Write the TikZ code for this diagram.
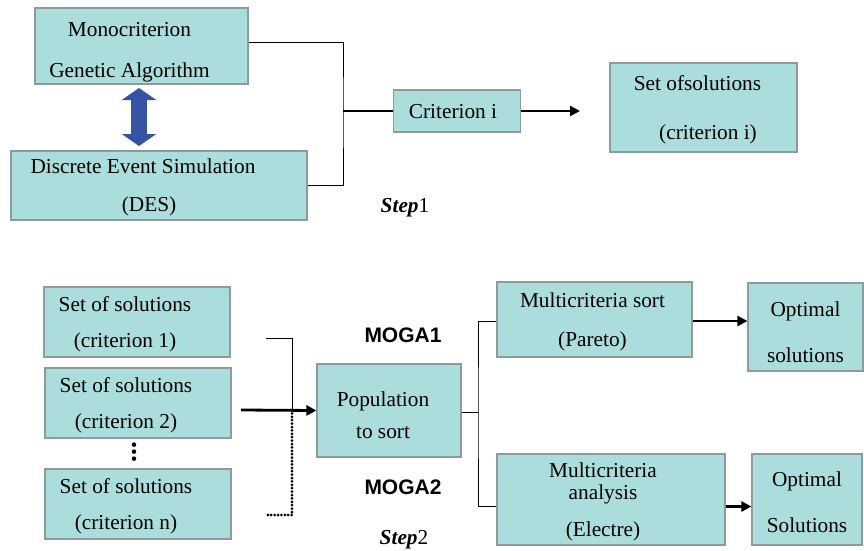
\documentclass[tikz,border=0pt]{standalone}
\usepackage{fontspec}
\setmainfont{Liberation Serif}
\setsansfont{Liberation Sans}
\usetikzlibrary{arrows.meta}
\definecolor{boxfill}{HTML}{AADDDB}
\definecolor{boxline}{HTML}{8C9C9C}
\definecolor{arrowblue}{HTML}{3653A4}
\newcommand{\topgap}[1]{\rule{0pt}{#1}}
\begin{document}
\begin{tikzpicture}[x=1pt,y=-1pt,
  box/.style={draw=boxline,fill=boxfill,line width=1.2pt,inner sep=0pt,align=center,
    font=\fontsize{21.3}{24}\selectfont,text depth=-7pt},
  tleft/.style={execute at end node={\hspace*{#1}}},
  link/.style={line width=0.9pt},
  thicklink/.style={line width=2.8pt},
  arr/.style={thicklink,-{Triangle[length=10pt,width=10pt]}},
  dotlink/.style={line width=3pt,line cap=round,dash pattern=on 0pt off 3.4pt},
  moga/.style={font=\sffamily\bfseries\fontsize{21}{24}\selectfont},
  steplabel/.style={font=\fontsize{21.3}{24}\selectfont}]
\useasboundingbox (0,0) rectangle (864,551);

% step 1
\node[box,tleft=24pt,minimum width=213pt,minimum height=76pt] (mono) at (141.5,46) {\topgap{21.5pt}Monocriterion\\[17pt]Genetic Algorithm};
\node[box,tleft=20pt,minimum width=296pt,minimum height=69pt] (des) at (159,185.5) {Discrete Event Simulation\hspace*{12pt}\\[14pt](DES)};
\node[box,tleft=8pt,minimum width=127pt,minimum height=42pt] (crit) at (457,111) {Criterion i};
\node[box,minimum width=187pt,minimum height=89pt] (setsol) at (703.5,107.5) {Set ofsolutions\hspace*{12pt}\\[25pt]\hspace*{9pt}(criterion i)};
\node[steplabel] (step1) at (405,208) {\textbf{\textit{Step}}1};

\coordinate (dblA) at (139,88);
\coordinate (dblB) at (139,146);
\draw[arrowblue,line width=16pt,{Triangle[length=12pt,width=34pt]}-{Triangle[length=12pt,width=34pt]}] (dblA) -- (dblB);

\coordinate (join1) at (343,111);
\coordinate (critend) at (580,111);
\draw[link] ([yshift=4pt]mono.east) -| (join1) |- (des.east);
\draw[thicklink] (join1) -- (crit.west);
\draw[arr] (crit.east) -- (critend);

% step 2
\node[box,tleft=24pt,minimum width=186pt,minimum height=70pt] (set1) at (137,322) {Set of solutions\\[12pt](criterion 1)};
\node[box,tleft=24pt,minimum width=186pt,minimum height=70pt] (set2) at (138,403) {Set of solutions\\[12pt](criterion 2)};
\node[box,tleft=24pt,minimum width=186pt,minimum height=70pt] (setn) at (138,504) {Set of solutions\\[12pt](criterion n)};
\draw[line width=4.5pt,line cap=round,dash pattern=on 0pt off 7pt,shorten <=6pt,shorten >=3pt] ([xshift=-4pt]set2.south) -- ([xshift=-4pt]setn.north);

\node[box,tleft=12pt,minimum width=144pt,minimum height=93pt] (pop) at (389,410.5) {\topgap{24pt}Population\\[8pt]to sort};
\node[moga] (moga1) at (403,335) {MOGA1};
\node[moga] (moga2) at (403,487) {MOGA2};
\node[steplabel] (step2) at (404,540) {\textbf{\textit{Step}}2};

\coordinate (in1) at (266,338);
\coordinate (in2) at (241,410);
\coordinate (inn) at (266,515);
\coordinate (merge) at (292,410);
\draw[link] (in1) -| (merge);
\draw[dotlink] (merge) |- (inn);
\draw[arr] (in2) -- (pop.west);

\node[box,tleft=4pt,minimum width=195pt,minimum height=75pt] (sortbox) at (594.5,319.5) {Multicriteria sort\\[15pt](Pareto)};
\node[box,minimum width=115pt,minimum height=88pt] (opt1) at (805.5,327) {\topgap{24pt}Optimal\\[22pt]solutions};
\node[box,tleft=16pt,minimum width=228pt,minimum height=91pt] (anabox) at (611,499.5) {Multicriteria\\[-2pt]analysis\\[13pt](Electre)};
\node[box,minimum width=110pt,minimum height=91pt] (opt2) at (807,499.5) {\topgap{20pt}Optimal\\[22pt]Solutions};

\coordinate (join2) at (478,412);
\draw[link] (pop.east |- join2) -- (join2);
\draw[link] ([yshift=-1.5pt]sortbox.west) -| (join2) |- ([yshift=-7pt]anabox.west);
\draw[arr] ([yshift=-1.5pt]sortbox.east) -- ([yshift=-1.5pt]sortbox.east -| opt1.west);
\draw[arr] ([yshift=-7pt]anabox.east) -- ([yshift=-7pt]anabox.east -| opt2.west);
\end{tikzpicture}
\end{document}
